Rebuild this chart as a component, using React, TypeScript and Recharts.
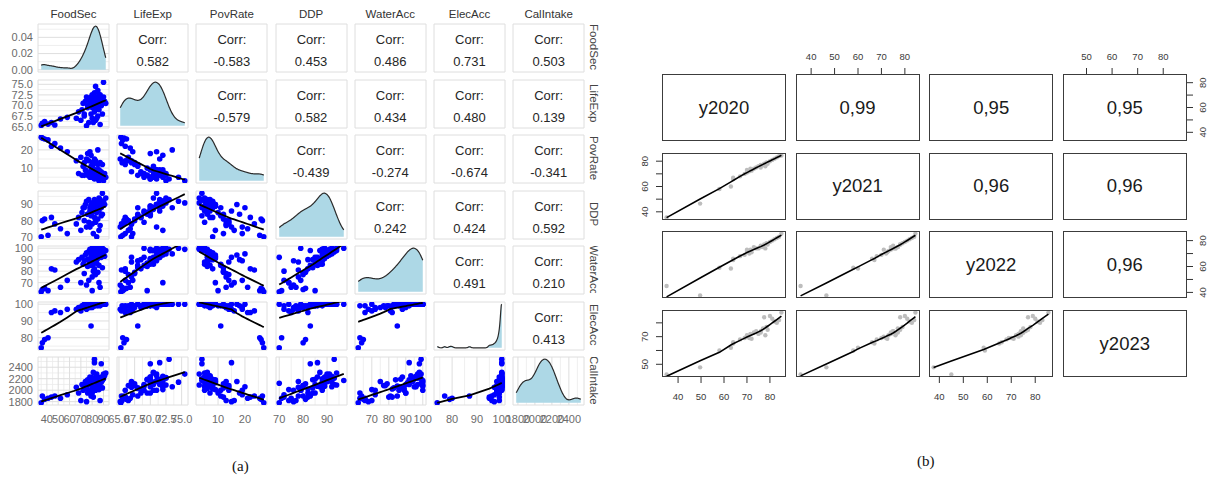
import React from 'react'
import { ScatterChart, Scatter, XAxis, YAxis, CartesianGrid, ComposedChart, Area } from 'recharts'

// ---------- panel (a): ggpairs of 7 indicators ----------
const varNames = ['FoodSec', 'LifeExp', 'PovRate', 'DDP', 'WaterAcc', 'ElecAcc', 'CalIntake']

const foodSec = [
  35, 36, 38, 41, 44, 47, 52, 58,
  66, 68, 70, 71, 72, 73, 74, 75, 75, 76, 77, 77, 78, 78, 79, 79, 80, 80, 80, 81, 81, 82,
  82, 82, 83, 83, 83, 84, 84, 84, 85, 85, 85, 86, 86, 86, 87, 87, 88, 88, 89, 89, 90, 90, 91, 92,
  76, 79, 82, 85, 78, 84, 73, 81, 83, 80, 86, 88,
]
const lifeExp = [
  65.3, 65.8, 66.2, 65.6, 66.0, 65.4, 66.8, 67.2,
  67.0, 68.5, 66.5, 69.0, 70.5, 67.5, 71.0, 65.2, 72.0, 69.5, 71.5, 66.0, 70.0, 71.5, 68.0, 71.5, 72.0, 67.0, 72.5, 70.0, 70.5, 70.5,
  73.0, 68.5, 71.0, 74.5, 66.5, 72.0, 69.5, 71.0, 70.0, 70.0, 67.5, 71.5, 72.5, 69.0, 72.5, 65.5, 70.0, 70.5, 71.0, 68.0, 72.0, 75.5, 71.0, 70.5,
  70.0, 72.0, 71.5, 73.5, 71.0, 67.0, 68.0, 66.0, 69.0, 69.5, 72.0, 70.0,
]
const povRate = [
  27, 26.5, 26, 25.5, 22, 23.5, 21, 19,
  14, 7, 16, 6, 11, 13, 9, 15, 8, 6, 7, 14, 5, 6, 11, 9, 5, 13, 7, 5, 6, 8,
  4, 8, 9, 5, 14, 7, 6, 6, 9, 4, 12, 8, 3, 7, 6, 13, 5, 8, 4, 12, 6, 3, 7, 5,
  18, 17, 15, 20, 19, 8, 6, 12, 5, 10, 9, 4,
]
const ddp = [
  70, 80, 81, 71, 82, 78, 75, 72,
  78, 82, 74, 85, 88, 80, 90, 76, 92, 84, 93, 79, 86, 88, 83, 89, 89, 78, 91, 87, 87, 88,
  93, 82, 90, 92, 80, 92, 85, 90, 89, 88, 81, 91, 94, 86, 93, 77, 89, 88, 97, 84, 92, 91, 90, 94,
  84, 90, 86, 88, 76, 70, 88, 72, 79, 85, 74, 83,
]
const waterAcc = [
  62, 64, 65, 63, 82, 81, 66, 72,
  88, 90, 70, 92, 86, 78, 94, 68, 96, 84, 97, 72, 88, 99, 85, 92, 100, 75, 95, 86, 98, 90,
  99, 82, 93, 100, 77, 96, 87, 97, 91, 99, 79, 94, 100, 85, 97, 66, 98, 92, 100, 83, 95, 99, 93, 98,
  90, 94, 92, 95, 89, 92, 89, 80, 100, 63, 70, 98,
]
const elecAcc = [
  74, 77, 79, 80, 95, 96, 95, 97,
  97, 98, 96, 99, 99, 98, 100, 97, 100, 99, 100, 98, 99, 100, 87, 100, 100, 98, 100, 100, 100, 100,
  100, 99, 100, 100, 99, 100, 100, 100, 100, 100, 99, 100, 100, 100, 100, 99, 100, 100, 100, 100, 100, 100, 100, 100,
  99, 100, 100, 100, 98, 100, 100, 99, 100, 99, 100, 100,
]
const calIntake = [
  1780, 1900, 1840, 1860, 1880, 1900, 1860, 1920,
  2050, 1950, 1820, 2100, 2000, 2080, 2150, 1800, 2060, 2180, 2100, 2000, 2230, 2120, 1900, 2180, 2070, 2150, 2220, 2060, 2310, 2100,
  2540, 2020, 2160, 2140, 2080, 2240, 2190, 2280, 2130, 2200, 2110, 2190, 2090, 2070, 2210, 1820, 2230, 2140, 2170, 2040, 2200, 2280, 2250, 2300,
  1950, 2150, 2480, 2060, 2000, 2120, 2030, 1880, 2000, 1950, 2010, 2460,
]

const foodSecTicks = [40, 50, 60, 70, 80, 90]
const lifeExpTicks = [65, 67.5, 70, 72.5, 75]
const povRateTicks = [10, 20]
const ddpTicks = [70, 80, 90]
const waterAccTicks = [70, 80, 90, 100]
const elecAccTicks = [80, 90, 100]
const calIntakeTicks = [1800, 2000, 2200, 2400]
const densityTicks = [0, 0.02, 0.04]

// upper triangle text, row by row
const corrFoodSec = ['0.582', '-0.583', '0.453', '0.486', '0.731', '0.503']
const corrLifeExp = ['-0.579', '0.582', '0.434', '0.480', '0.139']
const corrPovRate = ['-0.439', '-0.274', '-0.674', '-0.341']
const corrDDP = ['0.242', '0.424', '0.592']
const corrWaterAcc = ['0.491', '0.210']
const corrElecAcc = ['0.413']
const corrRows = [corrFoodSec, corrLifeExp, corrPovRate, corrDDP, corrWaterAcc, corrElecAcc]

// ---------- panel (b): pairs of yearly scores ----------
const yearNames = ['y2020', 'y2021', 'y2022', 'y2023']
const y2020 = [35, 49.6, 58, 63, 64, 64, 67, 69, 70, 71, 71.5, 72, 73, 74, 75, 76, 77, 77.5, 78, 78.5, 79, 80, 81, 82, 83, 84, 85, 76, 70]
const y2021 = [35.5, 46.5, 58, 60, 67, 66, 68, 70, 73, 72, 74, 72.5, 74, 75, 76, 75, 77, 78, 76, 79, 78, 80, 81, 82, 83, 84, 84.5, 77, 71]
const y2022 = [45, 37.6, 59, 58.5, 65, 66, 68, 69, 72, 70, 73, 71, 75, 74, 74, 76, 75, 77, 74, 78, 77, 79, 80, 81, 82, 83, 85.5, 75, 73]
const y2023 = [42.6, 47.8, 60, 62, 65, 66, 68, 69, 71, 69, 72, 68.5, 73, 74, 72, 74, 76, 84, 71, 77, 75, 85, 83, 81, 80, 82, 87.5, 73, 70]

const yearTicks = [40, 50, 60, 70, 80]
const y2023Ticks = [50, 60, 70, 80]
const yearSideLabels = [40, 60, 80]
const y2023SideLabels = [50, 70]

const pairCorr2020 = ['0,99', '0,95', '0,95']
const pairCorr2021 = ['0,96', '0,96']
const pairCorr2022 = ['0,96']
const pairCorrRows = [pairCorr2020, pairCorr2021, pairCorr2022]

// ---------- helpers ----------
const SANS = '"Liberation Sans", Arial, Helvetica, sans-serif'
type Pt = { x: number; y: number }

function padDomain(vals: number[], frac: number): [number, number] {
  const lo = Math.min(...vals)
  const hi = Math.max(...vals)
  const d = (hi - lo) * frac
  return [lo - d, hi + d]
}

function minorOf(ticks: number[], dom: [number, number]) {
  const step = ticks.length > 1 ? ticks[1] - ticks[0] : 10
  const out: number[] = []
  for (let t = ticks[0] - step * 1.5; t <= dom[1]; t += step) if (t >= dom[0]) out.push(t)
  return out
}

function quantile(s: number[], p: number) {
  const h = (s.length - 1) * p
  const i = Math.floor(h)
  const nxt = i + 1 < s.length ? s[i + 1] : s[i]
  return s[i] + (h - i) * (nxt - s[i])
}

// gaussian kde with R's bw.nrd0, over the data range
function density(vals: number[]): Pt[] {
  const n = vals.length
  const s = [...vals].sort((a, b) => a - b)
  const mean = vals.reduce((a, b) => a + b, 0) / n
  const sd = Math.sqrt(vals.reduce((a, v) => a + (v - mean) ** 2, 0) / (n - 1))
  const iqr = quantile(s, 0.75) - quantile(s, 0.25)
  const lo = Math.min(sd, iqr / 1.34) || sd
  const bw = 0.9 * lo * Math.pow(n, -0.2)
  const pts: Pt[] = []
  for (let i = 0; i < 160; i++) {
    const x = s[0] + ((s[n - 1] - s[0]) * i) / 159
    let y = 0
    for (const v of vals) y += Math.exp(-0.5 * ((x - v) / bw) ** 2)
    pts.push({ x, y: y / (n * bw * Math.sqrt(2 * Math.PI)) })
  }
  return pts
}

// local linear smoother with tricube weights (lowess-like); span > 1 widens the window
function lowess(xs: number[], ys: number[], f: number, iters: number): Pt[] {
  const pts = xs.map((x, i) => ({ x, y: ys[i] })).sort((a, b) => a.x - b.x)
  const n = pts.length
  const k = Math.min(n, Math.max(2, Math.ceil(f * n)))
  let rob = pts.map(() => 1)
  let fit: number[] = []
  for (let it = 0; it <= iters; it++) {
    fit = pts.map((p0) => {
      const d = pts.map((p) => Math.abs(p.x - p0.x))
      const sd = [...d].sort((a, b) => a - b)
      let h = f > 1 ? sd[n - 1] * f : sd[k - 1]
      if (!(h > 0)) h = 1e-6
      let sw = 0, sx = 0, sy = 0, sxx = 0, sxy = 0
      pts.forEach((p, i) => {
        const u = d[i] / (h * 1.0001)
        const w = u < 1 ? Math.pow(1 - u * u * u, 3) * rob[i] : 0
        sw += w; sx += w * p.x; sy += w * p.y; sxx += w * p.x * p.x; sxy += w * p.x * p.y
      })
      if (sw === 0) return p0.y
      const mx = sx / sw
      const my = sy / sw
      const vx = sxx / sw - mx * mx
      const b = vx > 1e-9 ? (sxy / sw - mx * my) / vx : 0
      return my + b * (p0.x - mx)
    })
    if (it < iters) {
      const res = pts.map((p, i) => p.y - fit[i])
      const s = res.map(Math.abs).sort((a, b) => a - b)
      const m = 6 * s[Math.floor(n / 2)]
      rob = res.map((r) => {
        if (!(m > 0)) return 1
        const u = r / m
        return Math.abs(u) < 1 ? (1 - u * u) ** 2 : 0
      })
    }
  }
  return pts.map((p, i) => ({ x: p.x, y: fit[i] }))
}

const zip = (xs: number[], ys: number[]) => xs.map((x, i) => ({ x, y: ys[i] }))

// ---------- panel (a) ----------
const valuesA = [foodSec, lifeExp, povRate, ddp, waterAcc, elecAcc, calIntake]
const ticksA = [foodSecTicks, lifeExpTicks, povRateTicks, ddpTicks, waterAccTicks, elecAccTicks, calIntakeTicks]
const varsA = varNames.map((name, i) => {
  const domain = padDomain(valuesA[i], 0.05)
  return {
    name,
    values: valuesA[i],
    ticks: ticksA[i],
    minor: minorOf(ticksA[i], domain),
    domain,
    fmt: (v: number) => (name === 'LifeExp' ? v.toFixed(1) : String(v)),
  }
})
const densities = valuesA.map((v) => density(v))

const A = { left: 38, top: 24, w: 71, h: 48, px: 79.2, py: 55.5, yw: 38, xh: 24 }
const tickA = { fontSize: 11, fill: '#6b6b6b', fontFamily: SANS }
const noMargin = { top: 0, right: 0, bottom: 0, left: 0 }
const GRID_MAJOR = '#dedede'
const GRID_MINOR = '#ebebeb'

function GgCell({ r, c }: { r: number; c: number }) {
  const vx = varsA[c]
  const vy = varsA[r]
  const showY = c === 0
  const showX = r === varsA.length - 1
  const left = A.left + c * A.px - (showY ? A.yw : 0)
  const top = A.top + r * A.py
  const width = A.w + (showY ? A.yw : 0)
  const height = A.h + (showX ? A.xh : 0)

  const xAxis = (
    <XAxis
      type="number"
      dataKey="x"
      domain={vx.domain}
      ticks={vx.ticks}
      allowDataOverflow
      interval={0}
      height={showX ? A.xh : 0}
      tick={showX ? tickA : false}
      tickFormatter={vx.fmt}
      axisLine={false}
      tickLine={false}
      tickSize={0}
      tickMargin={10}
    />
  )

  if (r === c) {
    const dens = densities[r]
    const m = Math.max(...dens.map((d) => d.y))
    const yDom: [number, number] = [-0.05 * m, 1.05 * m]
    return (
      <div style={{ position: 'absolute', left, top }}>
        <ComposedChart width={width} height={height} data={dens} margin={noMargin}>
          <CartesianGrid
            stroke={GRID_MINOR}
            strokeWidth={0.8}
            verticalValues={vx.minor}
            horizontal={r === 0}
            horizontalValues={r === 0 ? minorOf(densityTicks, yDom) : undefined}
          />
          <CartesianGrid stroke={GRID_MAJOR} />
          {xAxis}
          <YAxis
            type="number"
            domain={yDom}
            ticks={r === 0 ? densityTicks : undefined}
            allowDataOverflow
            interval={0}
            width={showY ? A.yw : 0}
            tick={showY ? tickA : false}
            tickFormatter={(v: number) => v.toFixed(2)}
            axisLine={false}
            tickLine={false}
            tickSize={0}
            tickMargin={5}
          />
          <Area
            type="monotone"
            dataKey="y"
            baseValue={0}
            fill="#add8e6"
            fillOpacity={1}
            stroke="#2b2b2b"
            strokeWidth={1.2}
            dot={false}
            activeDot={false}
            isAnimationActive={false}
          />
        </ComposedChart>
      </div>
    )
  }

  const yAxis = (
    <YAxis
      type="number"
      dataKey="y"
      domain={vy.domain}
      ticks={vy.ticks}
      allowDataOverflow
      interval={0}
      width={showY ? A.yw : 0}
      tick={showY ? tickA : false}
      tickFormatter={vy.fmt}
      axisLine={false}
      tickLine={false}
      tickSize={0}
      tickMargin={5}
    />
  )

  if (c > r) {
    return (
      <div style={{ position: 'absolute', left, top }}>
        <ScatterChart width={width} height={height} margin={noMargin}>
          <CartesianGrid stroke={GRID_MINOR} strokeWidth={0.8} verticalValues={vx.minor} horizontalValues={vy.minor} />
          <CartesianGrid stroke={GRID_MAJOR} />
          {xAxis}
          {yAxis}
        </ScatterChart>
        <div style={{ position: 'absolute', left: 0, top: 8, width, textAlign: 'center', fontFamily: SANS, fontSize: 13, color: '#262626', lineHeight: '16px' }}>
          Corr:
        </div>
        <div style={{ position: 'absolute', left: 0, top: 30, width, textAlign: 'center', fontFamily: SANS, fontSize: 13, color: '#262626', lineHeight: '16px' }}>
          {corrRows[r][c - r - 1]}
        </div>
      </div>
    )
  }

  const pts = zip(vx.values, vy.values)
  const fit = lowess(vx.values, vy.values, 1.3, 0)
  return (
    <div style={{ position: 'absolute', left, top }}>
      <ScatterChart width={width} height={height} margin={noMargin}>
        <CartesianGrid stroke={GRID_MINOR} strokeWidth={0.8} verticalValues={vx.minor} horizontalValues={vy.minor} />
        <CartesianGrid stroke={GRID_MAJOR} />
        {xAxis}
        {yAxis}
        <Scatter
          data={pts}
          isAnimationActive={false}
          shape={(p: any) => <circle cx={p.cx} cy={p.cy} r={2.8} fill="#0000ff" />}
        />
        <Scatter
          data={fit}
          isAnimationActive={false}
          line={{ stroke: '#000', strokeWidth: 1.8 }}
          shape={() => <g />}
        />
      </ScatterChart>
    </div>
  )
}

function PanelA() {
  const cells = []
  for (let r = 0; r < varsA.length; r++) for (let c = 0; c < varsA.length; c++) cells.push(<GgCell key={`${r}-${c}`} r={r} c={c} />)
  return (
    <>
      {cells}
      {varNames.map((n, i) => (
        <div
          key={'top' + n}
          style={{ position: 'absolute', left: A.left + i * A.px, top: 6, width: A.w, textAlign: 'center', fontFamily: SANS, fontSize: 11.5, color: '#333', lineHeight: '16px' }}
        >
          {n}
        </div>
      ))}
      {varNames.map((n, i) => (
        <div
          key={'side' + n}
          style={{
            position: 'absolute',
            left: 587,
            top: A.top + i * A.py,
            width: 14,
            height: A.h - 1,
            overflow: 'hidden',
            display: 'flex',
            flexDirection: 'column',
            justifyContent: 'center',
            alignItems: 'center',
          }}
        >
          <div
            style={{
              writingMode: 'vertical-rl',
              whiteSpace: 'nowrap',
              flexShrink: 0,
              fontFamily: SANS,
              fontSize: 11.5,
              color: '#444',
              lineHeight: '14px',
            }}
          >
            {n}
          </div>
        </div>
      ))}
    </>
  )
}

// ---------- panel (b) ----------
const valuesB = [y2020, y2021, y2022, y2023]
const varsB = yearNames.map((name, i) => ({
  name,
  values: valuesB[i],
  domain: padDomain(valuesB[i], 0.04),
  ticks: name === 'y2023' ? y2023Ticks : yearTicks,
  side: name === 'y2023' ? y2023SideLabels : yearSideLabels,
}))

const B = { left: 662, top: 74, w: 124, h: 67, px: 133.6, py: 78.7, ax: 26 }

function pairTick(side: 'top' | 'bottom' | 'left' | 'right', labelled: number[]) {
  return (props: any) => {
    const { x, y, payload } = props
    const v = payload.value
    if (!labelled.includes(v)) return <g />
    const common = { fontSize: 9.5, fill: '#3a3a3a', fontFamily: SANS, textAnchor: 'middle' as const }
    if (side === 'top') return <text x={x} y={y} {...common}>{v}</text>
    if (side === 'bottom') return <text x={x} y={y} dy="0.71em" {...common}>{v}</text>
    return (
      <text x={x} y={y} transform={`rotate(-90 ${x} ${y})`} {...common}>
        {v}
      </text>
    )
  }
}

function PairCell({ r, c }: { r: number; c: number }) {
  const n = varsB.length
  const vx = varsB[c]
  const vy = varsB[r]
  const top = r === 0 && c % 2 === 1
  const bottom = r === n - 1 && c % 2 === 0
  const leftAx = c === 0 && r % 2 === 1
  const rightAx = c === n - 1 && r % 2 === 0
  const padL = leftAx ? B.ax : 0
  const padR = rightAx ? B.ax : 0
  const padT = top ? B.ax : 0
  const padB = bottom ? B.ax : 0
  const boxL = B.left + c * B.px
  const boxT = B.top + r * B.py

  let label: string | null = null
  if (r === c) label = vx.name
  else if (c > r) label = pairCorrRows[r][c - r - 1]

  const pts = zip(vx.values, vy.values)
  const fit = r > c ? lowess(vx.values, vy.values, 2 / 3, 3) : []

  return (
    <>
      <div style={{ position: 'absolute', left: boxL - padL, top: boxT - padT }}>
        <ScatterChart width={B.w + padL + padR} height={B.h + padT + padB} margin={noMargin}>
          <XAxis
            type="number"
            dataKey="x"
            orientation={top ? 'top' : 'bottom'}
            domain={vx.domain}
            ticks={vx.ticks}
            allowDataOverflow
            interval={0}
            height={top || bottom ? B.ax : 0}
            hide={!(top || bottom)}
            axisLine={false}
            stroke="#333"
            tickSize={6}
            tickMargin={top ? 8 : 10}
            tick={top ? pairTick('top', vx.ticks) : pairTick('bottom', vx.ticks)}
          />
          <YAxis
            type="number"
            dataKey="y"
            orientation={rightAx ? 'right' : 'left'}
            domain={vy.domain}
            ticks={vy.ticks}
            allowDataOverflow
            interval={0}
            width={leftAx || rightAx ? B.ax : 0}
            hide={!(leftAx || rightAx)}
            axisLine={false}
            stroke="#333"
            tickSize={6}
            tickMargin={rightAx ? 13 : 8}
            tick={rightAx ? pairTick('right', vy.side) : pairTick('left', vy.side)}
          />
          {r > c && (
            <Scatter
              data={pts}
              isAnimationActive={false}
              shape={(p: any) => <circle cx={p.cx} cy={p.cy} r={2.2} fill="#bdbdbd" />}
            />
          )}
          {r > c && (
            <Scatter
              data={fit}
              isAnimationActive={false}
              line={{ stroke: '#000', strokeWidth: 1.6 }}
              shape={() => <g />}
            />
          )}
        </ScatterChart>
      </div>
      <div
        style={{
          position: 'absolute',
          left: boxL,
          top: boxT,
          width: B.w,
          height: B.h,
          boxSizing: 'border-box',
          border: '1px solid #3c3c3c',
          display: 'flex',
          alignItems: 'center',
          justifyContent: 'center',
          fontFamily: SANS,
          fontSize: 18.5,
          color: '#1a1a1a',
          pointerEvents: 'none',
        }}
      >
        {label}
      </div>
    </>
  )
}

function PanelB() {
  const cells = []
  for (let r = 0; r < varsB.length; r++) for (let c = 0; c < varsB.length; c++) cells.push(<PairCell key={`${r}-${c}`} r={r} c={c} />)
  return <>{cells}</>
}

export default function App() {
  return (
    <div style={{ position: 'absolute', left: 0, top: 0, width: 1208, height: 481, background: '#fff', overflow: 'hidden' }}>
      <style>{'.recharts-surface{overflow:visible}'}</style>
      <PanelA />
      <PanelB />
      <div style={{ position: 'absolute', left: 232, top: 458, fontFamily: '"Liberation Serif", "Times New Roman", serif', fontSize: 15, color: '#111' }}>(a)</div>
      <div style={{ position: 'absolute', left: 917, top: 453, fontFamily: '"Liberation Serif", "Times New Roman", serif', fontSize: 15, color: '#111' }}>(b)</div>
    </div>
  )
}
